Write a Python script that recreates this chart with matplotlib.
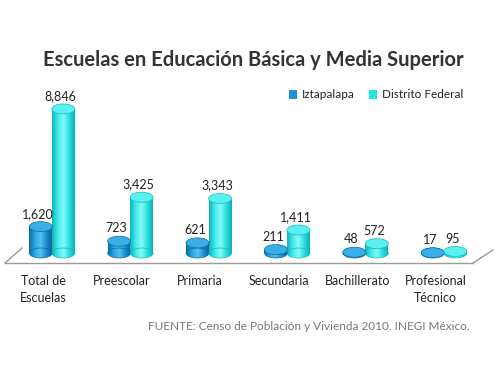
import numpy as np
import matplotlib.pyplot as plt
from matplotlib.patches import Ellipse, Rectangle, Patch
from matplotlib.colors import LinearSegmentedColormap
from matplotlib.lines import Line2D

categories = ['Total de\nEscuelas', 'Preescolar', 'Primaria', 'Secundaria',
              'Bachillerato', 'Profesional\nTécnico']
iztapalapa = [1620, 723, 621, 211, 48, 17]
distrito_federal = [8846, 3425, 3343, 1411, 572, 95]
series_names = ['Iztapalapa', 'Distrito Federal']

W, H = 500, 383
plt.rcParams['font.family'] = ['Lato', 'DejaVu Sans']

fig = plt.figure(figsize=(5, 3.83), dpi=100)
fig.patch.set_facecolor('white')
ax = fig.add_axes([0, 0, 1, 1])
ax.axis('off')

# pixel layout: group centre 52 + 78.4*i, baseline at 253 px from top
x0px, dxpx = 52.0, 78.4
base_px, units_per_px = 253.0, 61.4

def fx(p):
    return p / W

def fy(p):
    return 1 - p / H

# floor outline
floor = dict(color='#9a9a9a', lw=1.0, transform=fig.transFigure)
fig.add_artist(Line2D([fx(5), fx(473)], [fy(263), fy(263)], **floor))
fig.add_artist(Line2D([fx(5), fx(22)], [fy(263), fy(248)], **floor))
fig.add_artist(Line2D([fx(473), fx(493)], [fy(263), fy(250)], **floor))

bw = 23 / dxpx
eh = 10 * units_per_px
styles = [
    dict(grad=['#0a6da6', '#2aa6e2', '#55c2f0', '#1a8fd0', '#0a64a0'],
         top='#3aaee6', edge='#0b6aa2', legend='#1a95d6'),
    dict(grad=['#10b4b8', '#40ecec', '#8af8f8', '#2ae0e0', '#10b0b6'],
         top='#5af0f0', edge='#14bcc0', legend='#22e4e4'),
]

def cylinder(xc, v, st):
    left, right = xc - bw / 2, xc + bw / 2
    cmap = LinearSegmentedColormap.from_list('g', st['grad'])
    grad = np.linspace(0, 1, 64)[None, :]
    clips = [Rectangle((left, 0), bw, v, transform=ax.transData),
             Ellipse((xc, 0), bw, eh, transform=ax.transData)]
    for c in clips:
        im = ax.imshow(grad, cmap=cmap, aspect='auto', interpolation='bilinear',
                       extent=(left, right, -eh, v + eh), zorder=2)
        im.set_clip_path(c)
    ax.add_patch(Ellipse((xc, 0), bw, eh, fill=False, ec=st['edge'], lw=0.5, zorder=2.5))
    ax.add_patch(Ellipse((xc, v), bw, eh, fc=st['top'], ec=st['edge'], lw=0.5, zorder=3))

for s, vals in enumerate([iztapalapa, distrito_federal]):
    st = styles[s]
    for i, v in enumerate(vals):
        xc = i + (s - 0.5) * bw * 0.98
        cylinder(xc, v, st)
        ax.annotate(f'{v:,}', (xc, v), xytext=(-2, 5), textcoords='offset points',
                    ha='center', va='bottom', fontsize=9, color='#222222', zorder=4)

ax.set_xlim((0 - x0px) / dxpx, (W - x0px) / dxpx)
ax.set_ylim((base_px - H) * units_per_px, base_px * units_per_px)

for i, lab in enumerate(categories):
    fig.text(fx(x0px + dxpx * i - 8.5), fy(275), lab, ha='center', va='top',
             fontsize=9, color='#222222', linespacing=1.5)

fig.text(fx(253), fy(60), 'Escuelas en Educación Básica y Media Superior',
         ha='center', va='center', fontsize=14.5, fontweight='bold', color='#333333')

fig.text(fx(148), fy(327), 'FUENTE: Censo de Población y Vivienda 2010. INEGI México.',
         ha='left', va='center', fontsize=8.5, color='#777777')

handles = [Patch(fc=st['legend'], ec='none') for st in styles]
fig.legend(handles, series_names, loc='center left', bbox_to_anchor=(fx(278), fy(95)),
           ncol=2, frameon=False, fontsize=8.5, handlelength=0.7, handleheight=0.7,
           handletextpad=0.4, columnspacing=1.2, labelcolor='#222222')

fig.savefig('out.png', dpi=100)
